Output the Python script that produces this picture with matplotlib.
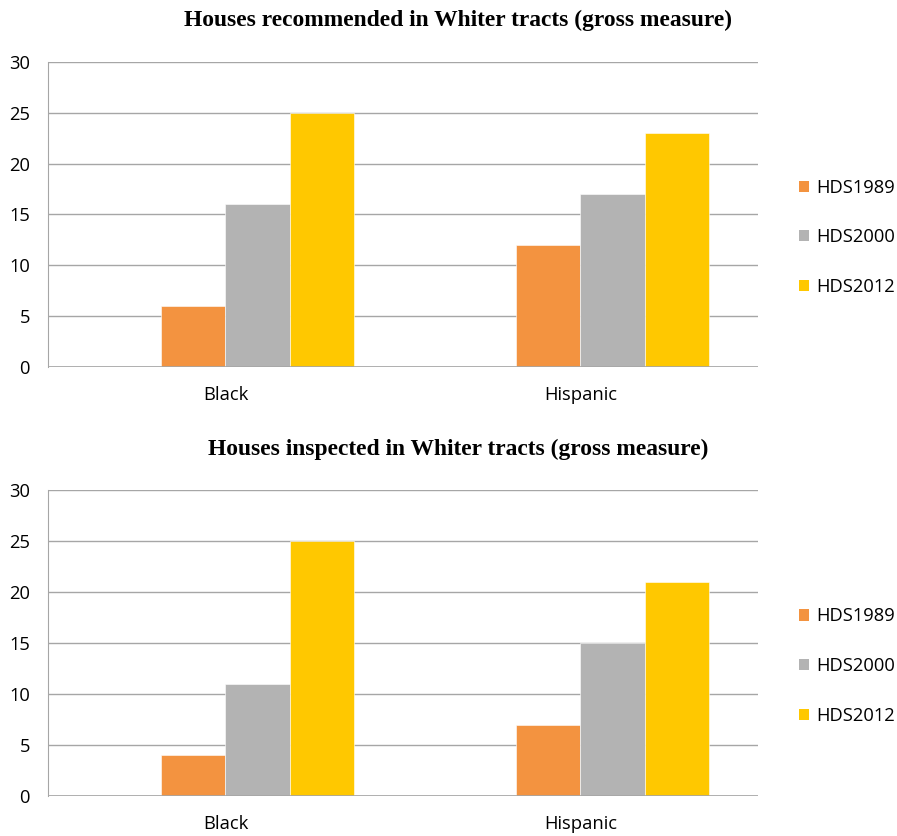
import numpy as np
import matplotlib
matplotlib.use('Agg')
import matplotlib.pyplot as plt
from matplotlib.patches import Patch

groups = ['Black', 'Hispanic']
series = ['HDS1989', 'HDS2000', 'HDS2012']
recommended = {'HDS1989': [6, 12], 'HDS2000': [16, 17], 'HDS2012': [25, 23]}
inspected = {'HDS1989': [4, 7], 'HDS2000': [11, 15], 'HDS2012': [25, 21]}
titles = ['Houses recommended in Whiter tracts (gross measure)',
          'Houses inspected in Whiter tracts (gross measure)']
colors = ['#F39340', '#B3B3B3', '#FFC800']

fs = 13.2
tickFont = {'family': 'Open Sans', 'size': fs}
titleFont = {'family': 'Liberation Serif', 'weight': 'bold', 'size': 16.9}

fig = plt.figure(figsize=(8.97, 8.36), dpi=100)
axPos = [[0.0535, 0.561, 0.7915, 0.365], [0.0535, 0.0478, 0.7915, 0.366]]
titleY = [0.976, 0.463]

x = np.arange(len(groups))
w = 0.181
for k, data in enumerate([recommended, inspected]):
    ax = fig.add_axes(axPos[k])
    # first slot of each group is an empty series, so bars start at -0.5w
    for i, s in enumerate(series):
        ax.bar(x + (i - 0.5) * w, data[s], width=w, color=colors[i],
               edgecolor='white', linewidth=0.4, zorder=3)
    ax.set_xlim(-0.5, 1.5)
    ax.set_ylim(0, 30)
    ax.set_yticks(np.arange(0, 31, 5))
    ax.set_xticks(x)
    ax.set_xticklabels(groups, **tickFont)
    for lab in ax.get_yticklabels():
        lab.set_fontfamily('Open Sans')
        lab.set_fontsize(fs)
    ax.yaxis.grid(True, color='#A6A6A6', linewidth=1, zorder=0)
    for sp in ['top', 'right', 'bottom']:
        ax.spines[sp].set_visible(False)
    ax.spines['left'].set_color('#A6A6A6')
    ax.axhline(0, color='#A6A6A6', linewidth=1.2, zorder=4)
    ax.tick_params(axis='both', length=0)
    ax.tick_params(axis='y', pad=13)
    ax.tick_params(axis='x', pad=14)
    fig.text(0.511, titleY[k], titles[k], ha='center', va='center', **titleFont)
    handles = [Patch(facecolor=c, edgecolor='none') for c in colors]
    ax.legend(handles, series, loc='center left', bbox_to_anchor=(1.035, 0.425),
              frameon=False, handlelength=0.55, handleheight=0.55,
              handletextpad=0.35, labelspacing=1.72,
              prop={'family': 'Open Sans', 'size': fs})

plt.savefig('out.png', dpi=100)
